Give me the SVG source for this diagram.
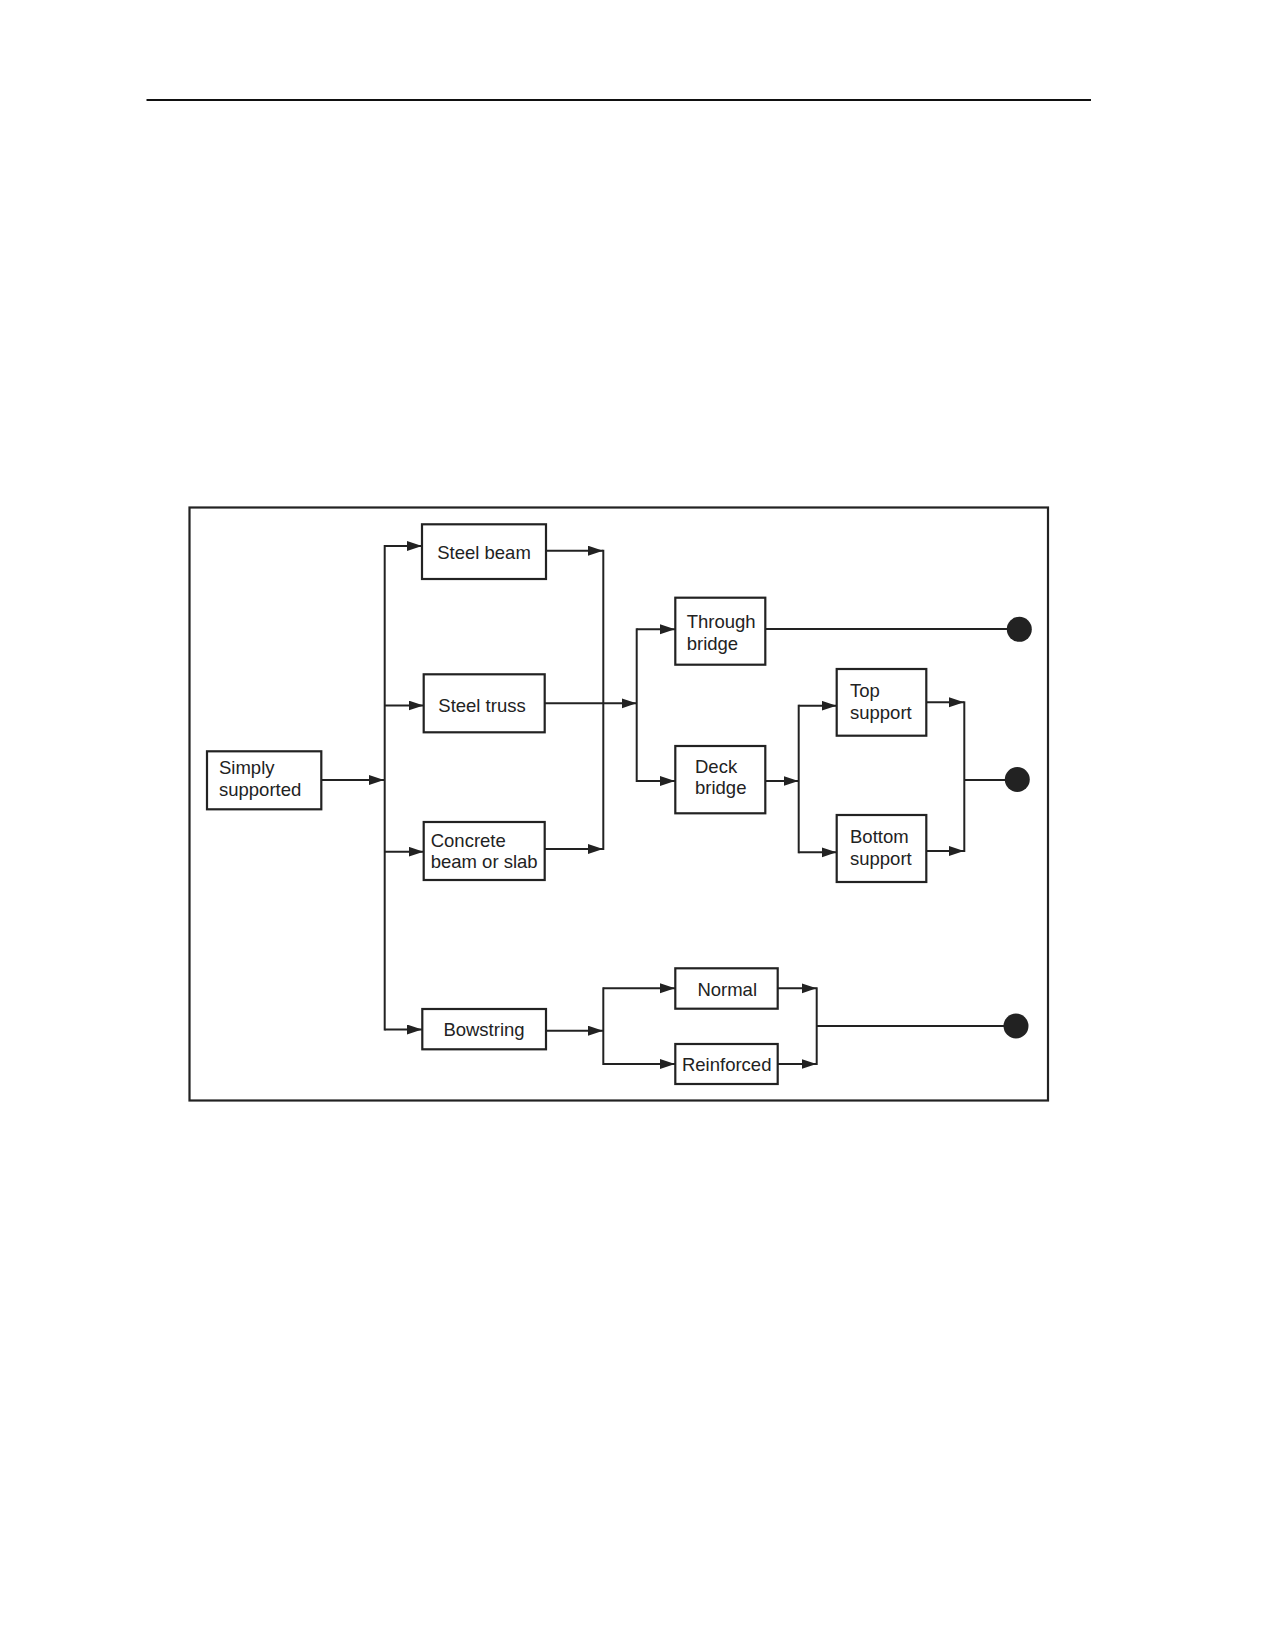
<svg xmlns="http://www.w3.org/2000/svg" width="1275" height="1650" viewBox="0 0 1275 1650">
<style>
.box{fill:#fff;stroke:#222;stroke-width:2.2}
.t{font-family:"Liberation Sans",Arial,sans-serif;font-size:18.5px;fill:#222}
.c{text-anchor:middle}
.ln{fill:none;stroke:#222;stroke-width:2}
.ar{marker-end:url(#ah)}
.dot{fill:#222}
</style>
<defs>
<marker id="ah" markerUnits="userSpaceOnUse" markerWidth="16" markerHeight="11" refX="15" refY="5" orient="auto">
<path d="M0,0 L15,5 L0,10 z" fill="#222"/>
</marker>
</defs>
<rect width="1275" height="1650" fill="#fff"/>
<line x1="146.5" y1="100" x2="1091" y2="100" stroke="#111" stroke-width="2.2"/>
<rect x="189.5" y="507.5" width="858.5" height="593" fill="none" stroke="#222" stroke-width="2.2"/>

<g id="connectors">
<line class="ln ar" x1="321" y1="780" x2="384" y2="780"/>
<line class="ln" x1="384.7" y1="545" x2="384.7" y2="1030.5"/>
<line class="ln ar" x1="384.7" y1="546" x2="422" y2="546"/>
<line class="ln ar" x1="384.7" y1="705.5" x2="423.5" y2="705.5"/>
<line class="ln ar" x1="384.7" y1="851.7" x2="423.5" y2="851.7"/>
<line class="ln ar" x1="384.7" y1="1029.5" x2="422" y2="1029.5"/>
<line class="ln ar" x1="546" y1="550.7" x2="603" y2="550.7"/>
<line class="ln ar" x1="544.7" y1="849" x2="603" y2="849"/>
<line class="ln" x1="603.3" y1="549.7" x2="603.3" y2="850"/>
<line class="ln ar" x1="544.7" y1="703.3" x2="636.5" y2="703.3"/>
<line class="ln" x1="636.7" y1="628.3" x2="636.7" y2="782"/>
<line class="ln ar" x1="636.7" y1="629.3" x2="675" y2="629.3"/>
<line class="ln ar" x1="636.7" y1="781" x2="675" y2="781"/>
<line class="ln" x1="765.3" y1="629" x2="1019" y2="629"/>
<line class="ln ar" x1="765.3" y1="781" x2="798.5" y2="781"/>
<line class="ln" x1="798.7" y1="704.7" x2="798.7" y2="853.3"/>
<line class="ln ar" x1="798.7" y1="705.7" x2="836.5" y2="705.7"/>
<line class="ln ar" x1="798.7" y1="852.3" x2="836.5" y2="852.3"/>
<line class="ln ar" x1="926.3" y1="702.3" x2="964" y2="702.3"/>
<line class="ln ar" x1="926.3" y1="851" x2="964" y2="851"/>
<line class="ln" x1="964.3" y1="701.3" x2="964.3" y2="852"/>
<line class="ln" x1="964.3" y1="780" x2="1017" y2="780"/>
<line class="ln ar" x1="546" y1="1030.7" x2="603" y2="1030.7"/>
<line class="ln" x1="603.3" y1="987.3" x2="603.3" y2="1065"/>
<line class="ln ar" x1="603.3" y1="988.3" x2="675" y2="988.3"/>
<line class="ln ar" x1="603.3" y1="1064" x2="675" y2="1064"/>
<line class="ln ar" x1="777.7" y1="988.3" x2="816.5" y2="988.3"/>
<line class="ln ar" x1="777.7" y1="1064" x2="816.5" y2="1064"/>
<line class="ln" x1="816.7" y1="987.3" x2="816.7" y2="1065"/>
<line class="ln" x1="816.7" y1="1026" x2="1016" y2="1026"/>
<circle class="dot" cx="1019.3" cy="629.3" r="12.5"/>
<circle class="dot" cx="1017.3" cy="779.5" r="12.5"/>
<circle class="dot" cx="1016" cy="1026" r="12.5"/>
</g>

<g id="simply-supported">
<rect class="box" x="207" y="751.3" width="114.3" height="58"/>
<text class="t" x="219" y="774">Simply</text>
<text class="t" x="219" y="796">supported</text>
</g>
<g id="steel-beam">
<rect class="box" x="422" y="524.3" width="124" height="54.7"/>
<text class="t c" x="484" y="559.3">Steel beam</text>
</g>
<g id="steel-truss">
<rect class="box" x="423.7" y="674.3" width="121" height="58"/>
<text class="t c" x="482" y="712.3">Steel truss</text>
</g>
<g id="concrete">
<rect class="box" x="423.7" y="822" width="121" height="58"/>
<text class="t" x="430.7" y="846.7">Concrete</text>
<text class="t" x="430.7" y="868.3">beam or slab</text>
</g>
<g id="bowstring">
<rect class="box" x="422.3" y="1009" width="123.7" height="40.3"/>
<text class="t c" x="484" y="1035.7">Bowstring</text>
</g>
<g id="through-bridge">
<rect class="box" x="675.3" y="597.7" width="90" height="67"/>
<text class="t" x="686.7" y="628.3">Through</text>
<text class="t" x="686.7" y="650">bridge</text>
</g>
<g id="deck-bridge">
<rect class="box" x="675.3" y="746" width="90" height="67.3"/>
<text class="t" x="695" y="772.7">Deck</text>
<text class="t" x="695" y="794">bridge</text>
</g>
<g id="top-support">
<rect class="box" x="836.7" y="669" width="89.6" height="66.7"/>
<text class="t" x="850" y="697.3">Top</text>
<text class="t" x="850" y="718.7">support</text>
</g>
<g id="bottom-support">
<rect class="box" x="836.7" y="815" width="89.6" height="67"/>
<text class="t" x="850" y="843.3">Bottom</text>
<text class="t" x="850" y="865">support</text>
</g>
<g id="normal">
<rect class="box" x="675.3" y="968.3" width="102.4" height="40.4"/>
<text class="t c" x="727.2" y="995.7">Normal</text>
</g>
<g id="reinforced">
<rect class="box" x="675.3" y="1044" width="102.4" height="40"/>
<text class="t c" x="726.7" y="1071">Reinforced</text>
</g>
</svg>
